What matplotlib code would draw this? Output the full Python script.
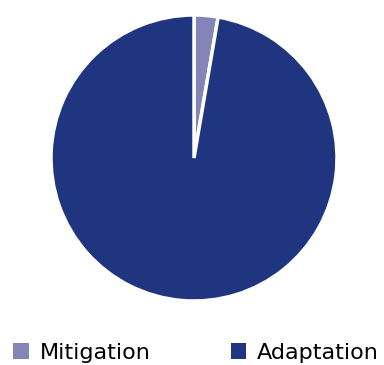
import matplotlib.pyplot as plt
from matplotlib.patches import Patch

labels = ['Mitigation', 'Adaptation']
shares = [2.7, 97.3]
colors = ['#8584b8', '#1f3580']

fig = plt.figure(figsize=(3.84, 3.65), dpi=100)

# pie axes placed so the circle sits where it does in the reference
ax = fig.add_axes([51 / 384, 64 / 365, 286 / 384, 286 / 365])
ax.pie(shares, colors=colors, startangle=90, counterclock=False, radius=1,
       wedgeprops={'edgecolor': 'white', 'linewidth': 2.5})
ax.set_xlim(-1, 1)
ax.set_ylim(-1, 1)
ax.set_aspect('equal')

handles = [Patch(facecolor=c, label=l) for c, l in zip(colors, labels)]
fig.legend(handles=handles, loc='lower left', bbox_to_anchor=(-0.018, -0.048),
           ncol=2, frameon=False, fontsize=16, handlelength=0.7, handleheight=0.7,
           handletextpad=0.5, columnspacing=3.6)

fig.savefig('out.png', dpi=100)
